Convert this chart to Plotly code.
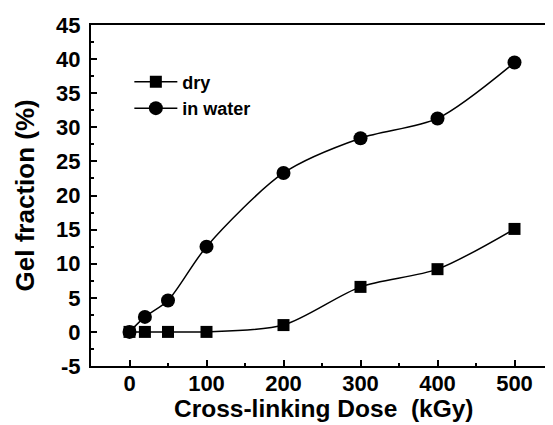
import plotly.graph_objects as go

dose = [0, 20, 50, 100, 200, 300, 400, 500]
dry = [0.0, 0.0, 0.0, 0.0, 1.0, 6.6, 9.2, 15.1]
in_water = [0.0, 2.2, 4.6, 12.5, 23.3, 28.4, 31.3, 39.5]
x_ticks = [0, 100, 200, 300, 400, 500]
y_ticks = [-5, 0, 5, 10, 15, 20, 25, 30, 35, 40, 45]
y_tick_labels = ["-5", "0", "5", "10", "15", "20", "25", "30", "35", "40", "45"]
x_title = "Cross-linking Dose  (kGy)"
y_title = "Gel fraction (%)"

FONT = "Liberation Sans, Arial, sans-serif"

fig = go.Figure()
fig.add_trace(go.Scatter(
    x=dose, y=dry, name="dry", mode="lines+markers",
    line=dict(color="black", width=1.5, shape="spline", smoothing=0.8),
    marker=dict(symbol="square", size=12, color="black"),
))
fig.add_trace(go.Scatter(
    x=dose, y=in_water, name="in water", mode="lines+markers",
    line=dict(color="black", width=1.5, shape="spline", smoothing=0.8),
    marker=dict(symbol="circle", size=14, color="black"),
))

axis_common = dict(
    showline=True, linecolor="black", linewidth=2, mirror=True,
    ticks="inside", ticklen=6, tickwidth=1.5, tickcolor="black",
    showgrid=False, zeroline=False, automargin=False,
    tickfont=dict(family=FONT, size=22, color="black", weight="bold"),
)

fig.update_xaxes(
    range=[-50, 550], tickvals=x_ticks,
    minor=dict(ticks="inside", ticklen=3, tickwidth=1.5, tickcolor="black", dtick=50, tick0=0),
    ticklabelstandoff=-3,
    **axis_common,
)
fig.update_yaxes(
    range=[-5, 45], tickvals=y_ticks, ticktext=y_tick_labels,
    minor=dict(ticks="inside", ticklen=3, tickwidth=1.5, tickcolor="black", dtick=2.5, tick0=0),
    ticklabelstandoff=4,
    **axis_common,
)

fig.add_annotation(
    text=x_title, xref="paper", yref="paper", x=0.505, y=-0.124,
    xanchor="center", yanchor="middle", showarrow=False,
    font=dict(family=FONT, size=24.5, color="black", weight="bold"),
)
fig.add_annotation(
    text=y_title, xref="paper", yref="paper", x=-0.143, y=0.5,
    xanchor="center", yanchor="middle", showarrow=False, textangle=-90,
    font=dict(family=FONT, size=26, color="black", weight="bold"),
)

fig.update_layout(
    width=545, height=417,
    margin=dict(l=83, r=0, t=17, b=59),
    paper_bgcolor="white", plot_bgcolor="white",
    showlegend=True,
    legend=dict(x=0.083, y=0.887, xanchor="left", yanchor="top",
                bgcolor="rgba(0,0,0,0)", borderwidth=0,
                font=dict(family=FONT, size=18, color="black", weight="bold"),
                itemwidth=43, tracegroupgap=0),
)

fig.write_html("out.html")
